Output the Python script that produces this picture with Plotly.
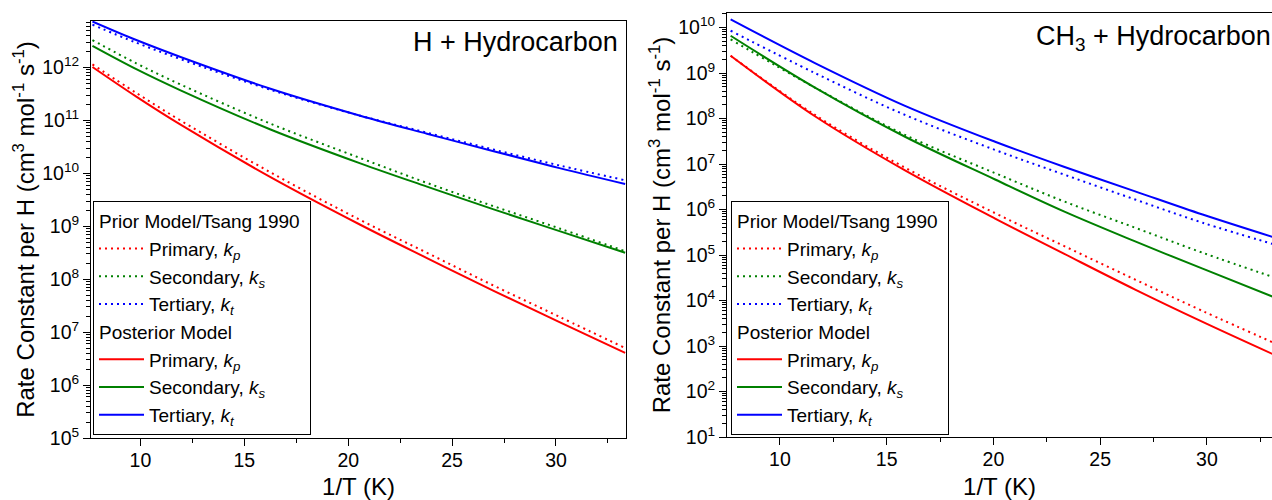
import plotly.graph_objects as go

# ---------------- data (log10 of rate constant) ----------------
x_h = [7.69, 9.8, 11.93, 16.26, 20.58, 23.79, 27.0, 30.17, 33.33]
h_prior_p = [12.06, 11.52, 11.00, 10.02, 9.12, 8.50, 7.88, 7.29, 6.70]
h_prior_s = [12.52, 12.08, 11.68, 10.94, 10.29, 9.82, 9.38, 8.96, 8.53]
h_prior_t = [12.81, 12.47, 12.16, 11.58, 11.09, 10.77, 10.45, 10.15, 9.87]
h_post_p = [12.01, 11.45, 10.92, 9.93, 9.03, 8.40, 7.78, 7.19, 6.61]
h_post_s = [12.41, 11.97, 11.57, 10.83, 10.19, 9.75, 9.32, 8.91, 8.50]
h_post_t = [12.87, 12.52, 12.20, 11.60, 11.09, 10.75, 10.42, 10.10, 9.80]

x_ch3 = [7.69, 11.64, 15.86, 20.08, 23.3, 26.64, 29.8, 33.33]
c_prior_p = [9.38, 8.08, 6.92, 5.92, 5.20, 4.46, 3.77, 3.03]
c_prior_s = [9.74, 8.68, 7.64, 6.80, 6.18, 5.60, 5.05, 4.48]
c_prior_t = [9.93, 9.00, 8.08, 7.31, 6.77, 6.22, 5.71, 5.21]
c_post_p = [9.38, 8.05, 6.86, 5.80, 5.03, 4.24, 3.53, 2.77]
c_post_s = [9.82, 8.68, 7.60, 6.66, 5.96, 5.30, 4.70, 4.04]
c_post_t = [10.18, 9.22, 8.28, 7.49, 6.94, 6.40, 5.89, 5.36]

x_ticks = [10, 15, 20, 25, 30]
y_exp_h = [5, 6, 7, 8, 9, 10, 11, 12]
y_exp_ch3 = [1, 2, 3, 4, 5, 6, 7, 8, 9, 10]

colors = {"p": "#ff0000", "s": "#008000", "t": "#0000ff"}
names = {
    "p": "Primary, <i>k</i><sub><i>p</i></sub>",
    "s": "Secondary, <i>k</i><sub><i>s</i></sub>",
    "t": "Tertiary, <i>k</i><sub><i>t</i></sub>",
}

FONT = "Liberation Sans, Arial, sans-serif"
LEG_SIZE = 19

fig = go.Figure()


def add_set(xs, series, group, title, dash, xa, ya, legend):
    for key, vals in series:
        fig.add_trace(go.Scatter(
            x=xs, y=[10 ** v for v in vals], mode="lines",
            line=dict(color=colors[key], width=2, dash=dash, shape="spline", smoothing=1.0),
            name=names[key], legendgroup=group + legend,
            legendgrouptitle=dict(text=title, font=dict(size=LEG_SIZE, color="black", family=FONT)),
            xaxis=xa, yaxis=ya, legend=legend,
        ))


dotdash = "2px,4px"
add_set(x_h, [("p", h_prior_p), ("s", h_prior_s), ("t", h_prior_t)], "prior",
        "Prior Model/Tsang 1990", dotdash, "x", "y", "legend")
add_set(x_h, [("p", h_post_p), ("s", h_post_s), ("t", h_post_t)], "post",
        "Posterior Model", "solid", "x", "y", "legend")
add_set(x_ch3, [("p", c_prior_p), ("s", c_prior_s), ("t", c_prior_t)], "prior",
        "Prior Model/Tsang 1990", dotdash, "x2", "y2", "legend2")
add_set(x_ch3, [("p", c_post_p), ("s", c_post_s), ("t", c_post_t)], "post",
        "Posterior Model", "solid", "x2", "y2", "legend2")

ML, MT, MB = 91, 13, 62
W, H = 1272, 500
PW = W - ML
PH = H - MT - MB


def px_x(px):
    return (px - ML) / PW


def px_y(py):
    return (H - MB - py) / PH


xcommon = dict(
    showline=True, linecolor="black", linewidth=1, mirror=True, automargin=False,
    ticks="outside", ticklen=7, tickwidth=1, tickcolor="black",
    tickvals=x_ticks, showgrid=False, zeroline=False, ticklabelstandoff=-2,
    minor=dict(ticks="outside", ticklen=4, tickwidth=1, tickcolor="black", dtick=2.5, tick0=0, showgrid=False),
    tickfont=dict(size=19.5, color="black", family=FONT),
    title=dict(text="1/T (K)", standoff=8, font=dict(size=24, color="black", family=FONT)),
)


def ycommon(exps, standoff):
    return dict(
        type="log", showline=True, linecolor="black", linewidth=1, automargin=False,
        ticks="outside", ticklen=7, tickwidth=1, tickcolor="black",
        tickvals=[10 ** e for e in exps], ticktext=["10<sup>%d</sup>" % e for e in exps],
        showgrid=False, zeroline=False,
        minor=dict(ticks="outside", ticklen=4, tickwidth=1, tickcolor="black", dtick="D1", showgrid=False),
        tickfont=dict(size=19.5, color="black", family=FONT),
        title=dict(text="Rate Constant per H (cm<sup>3</sup> mol<sup>-1</sup> s<sup>-1</sup>)",
                   standoff=standoff, font=dict(size=24, color="black", family=FONT)),
    )


legend_common = dict(
    bgcolor="white", bordercolor="black", borderwidth=1,
    font=dict(size=LEG_SIZE, color="black", family=FONT),
    traceorder="grouped", tracegroupgap=0, itemwidth=45,
    xanchor="left", yanchor="bottom",
)

fig.update_layout(
    width=W, height=H,
    margin=dict(l=ML, r=0, t=MT, b=MB, autoexpand=False),
    paper_bgcolor="white", plot_bgcolor="white",
    font=dict(family=FONT, color="black"),
    xaxis=dict(domain=[0, px_x(626)], range=[7.62, 33.37], anchor="y", **xcommon),
    yaxis=dict(domain=[px_y(438), px_y(21)], range=[5, 12.88], anchor="x", mirror=True,
               **ycommon(y_exp_h, 0)),
    xaxis2=dict(domain=[px_x(727), 1], range=[7.52, 33.05], anchor="y2", **xcommon),
    yaxis2=dict(domain=[px_y(437), px_y(13)], range=[1, 10.32], anchor="x2", mirror=False,
                **ycommon(y_exp_ch3, 0)),
    legend=dict(x=px_x(93), y=px_y(435), **legend_common),
    legend2=dict(x=px_x(731), y=px_y(435), **legend_common),
    annotations=[
        dict(text="H + Hydrocarbon", xref="paper", yref="paper", x=px_x(620), y=px_y(42),
             xanchor="right", yanchor="middle", showarrow=False,
             font=dict(size=27, color="black", family=FONT)),
        dict(text="CH<sub>3</sub> + Hydrocarbon", xref="paper", yref="paper", x=px_x(1034), y=px_y(38),
             xanchor="left", yanchor="middle", showarrow=False,
             font=dict(size=27, color="black", family=FONT)),
    ],
)

fig.write_html("out.html", config={"displayModeBar": False},
               post_script="document.body.style.margin='0px';")
